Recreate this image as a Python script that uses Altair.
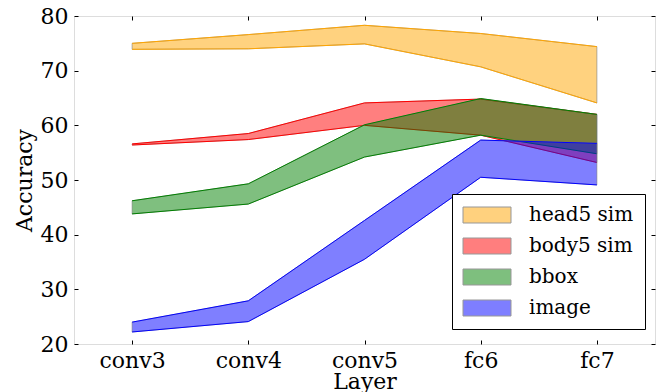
import altair as alt
import pandas as pd

layers = ["conv3", "conv4", "conv5", "fc6", "fc7"]
series = ["head5 sim", "body5 sim", "bbox", "image"]
colors = ["#FFA500", "#FF0000", "#008000", "#0000FF"]

head_hi = [75.0, 76.6, 78.3, 76.8, 74.4]
head_lo = [73.9, 74.0, 74.9, 70.7, 64.1]
body_hi = [56.6, 58.5, 64.1, 64.8, 62.0]
body_lo = [56.4, 57.4, 60.0, 58.2, 53.2]
bbox_hi = [46.2, 49.3, 60.1, 64.9, 62.0]
bbox_lo = [43.8, 45.6, 54.2, 58.2, 54.8]
image_hi = [24.0, 27.9, 42.6, 57.3, 56.7]
image_lo = [22.2, 24.1, 35.5, 50.5, 49.1]

his = [head_hi, body_hi, bbox_hi, image_hi]
los = [head_lo, body_lo, bbox_lo, image_lo]

rows = []
for s, hi, lo in zip(series, his, los):
    for l, h, w in zip(layers, hi, lo):
        rows.append({"layer": l, "series": s, "hi": h, "lo": w})
df = pd.DataFrame(rows)

W, H = 581, 328
FONT = "DejaVu Serif"

xs = alt.Scale(type="point", padding=0.5)
ys = alt.Scale(domain=[20, 80], nice=False, zero=False)
cs = alt.Scale(domain=series, range=colors)

legend = alt.Legend(
    title=None, orient="none", legendX=378, legendY=178,
    strokeColor="black", fillColor="white", padding=11, rowPadding=11,
    symbolType="M-1.25,-1H4.75V1H-1.25Z", symbolSize=256, symbolOpacity=0.5,
    symbolStrokeColor="#333333", symbolStrokeWidth=1,
    labelOffset=46, labelFont=FONT, labelFontSize=20, labelColor="black",
)

main_x = alt.Axis(title="Layer", labelFont=FONT, labelFontSize=22, labelColor="black",
                  titleFont=FONT, titleFontSize=22, titleFontWeight="normal", titleColor="black",
                  ticks=False, domain=False, grid=False, labelPadding=6, titlePadding=0, labelAngle=0)
main_y = alt.Axis(title="Accuracy", values=[20, 30, 40, 50, 60, 70, 80],
                  labelFont=FONT, labelFontSize=22, labelColor="black",
                  titleFont=FONT, titleFontSize=22, titleFontWeight="normal", titleColor="black",
                  ticks=False, domain=False, grid=False, labelPadding=6, titlePadding=4)

def tick_axis(orient, offset, values=None):
    kw = dict(orient=orient, offset=offset, labels=False, domain=False, title=None,
              ticks=True, tickSize=4, tickColor="black", grid=False)
    if values is not None:
        kw["values"] = values
    return alt.Axis(**kw)

yvals = [20, 30, 40, 50, 60, 70, 80]

layers_list = []
base = alt.Chart(df)
for i, (s, c) in enumerate(zip(series, colors)):
    sub = base.transform_filter(alt.datum.series == s)
    xa = main_x if i == 0 else None
    ya = main_y if i == 0 else None
    area = sub.mark_area(fillOpacity=0.5, stroke="#777777", strokeWidth=0.8, strokeOpacity=0.7).encode(
        x=alt.X("layer:O", sort=layers, scale=xs, axis=xa),
        y=alt.Y("hi:Q", scale=ys, axis=ya),
        y2="lo:Q",
        color=alt.Color("series:N", scale=cs, legend=legend),
    )
    xa1 = tick_axis("top", -H) if i == 0 else None
    ya1 = tick_axis("right", -W, yvals) if i == 0 else None
    xa2 = tick_axis("bottom", -H) if i == 0 else None
    ya2 = tick_axis("left", -W, yvals) if i == 0 else None
    line_hi = sub.mark_line(color=c, strokeWidth=1).encode(
        x=alt.X("layer:O", sort=layers, scale=xs, axis=xa1),
        y=alt.Y("hi:Q", scale=ys, axis=ya1),
    )
    line_lo = sub.mark_line(color=c, strokeWidth=1).encode(
        x=alt.X("layer:O", sort=layers, scale=xs, axis=xa2),
        y=alt.Y("lo:Q", scale=ys, axis=ya2),
    )
    layers_list += [area, line_hi, line_lo]

chart = alt.layer(*layers_list).resolve_axis(x="independent", y="independent").properties(
    width=W, height=H,
    autosize=alt.AutoSizeParams(type="none"),
    padding={"left": 66, "top": 8, "right": 3, "bottom": 50},
).configure_view(stroke="black", strokeWidth=1).configure(background="white")

chart.save("out.html", embed_options={"renderer": "svg", "actions": False})
